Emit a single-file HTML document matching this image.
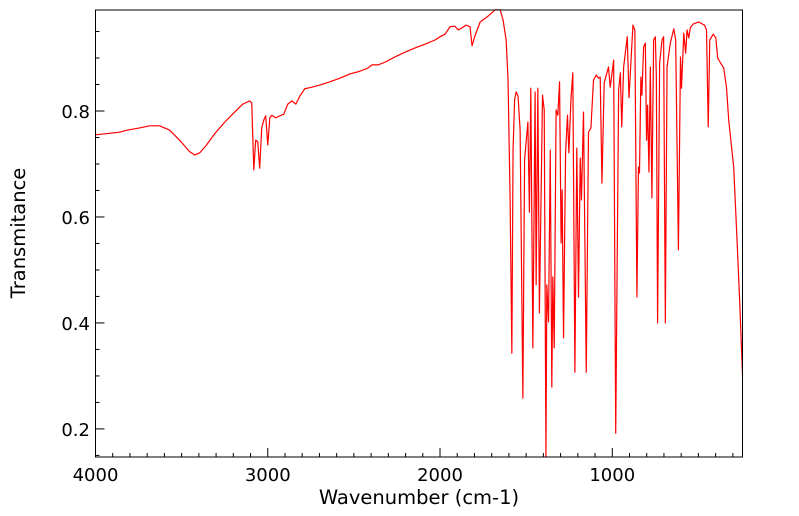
<!DOCTYPE html>
<html><head><meta charset="utf-8"><style>
html,body{margin:0;padding:0;background:#fff;}
svg{display:block;font-family:"DejaVu Sans","Liberation Sans",sans-serif;}
</style></head><body>
<svg id="chart" width="799" height="516" viewBox="0 0 799 516" xmlns="http://www.w3.org/2000/svg">
<g id="ticks"></g>
<path id="line" fill="none" stroke="#ff0000" stroke-width="1.2" stroke-linejoin="round"/>
<rect x="95.5" y="10" width="647" height="447" fill="none" stroke="#000" stroke-width="1"/>
<g id="labels" font-size="18" fill="#000"></g>
<text x="419" y="504" font-size="19.5" text-anchor="middle">Wavenumber (cm-1)</text>
<text x="25" y="233" font-size="19.5" text-anchor="middle" transform="rotate(-90 25 233)">Transmitance</text>
</svg>
<script>
const wavenumbers=[4000,3860,3814,3744,3686,3628,3570,3512,3453,3424,3395,3355,3308,3250,3192,3145,3105,3093,3081,3070,3058,3047,3035,3023,3012,3000,2988,2977,2953,2930,2907,2884,2860,2837,2814,2785,2744,2698,2640,2581,2523,2465,2419,2395,2360,2320,2262,2203,2145,2087,2029,2000,1971,1942,1913,1895,1872,1849,1826,1814,1797,1767,1721,1680,1651,1634,1616,1605,1593,1583,1576,1567,1558,1547,1535,1519,1509,1490,1481,1473,1461,1448,1442,1432,1423,1405,1395,1385,1380,1370,1360,1351,1345,1337,1326,1316,1306,1297,1291,1283,1271,1260,1252,1240,1229,1217,1206,1196,1186,1179,1167,1151,1138,1124,1109,1093,1080,1070,1060,1047,1022,1012,992,980,963,953,945,934,913,903,880,869,857,848,842,834,828,818,808,801,795,787,779,770,760,750,744,737,725,711,702,692,682,663,643,632,616,604,598,585,574,566,556,547,531,498,465,453,443,434,414,399,388,372,353,337,324,304,295,275,260,244];
const transmittance=[0.755,0.760,0.764,0.768,0.772,0.772,0.764,0.745,0.723,0.717,0.721,0.736,0.757,0.779,0.798,0.813,0.819,0.815,0.689,0.745,0.742,0.692,0.768,0.783,0.791,0.736,0.787,0.792,0.787,0.791,0.794,0.813,0.819,0.813,0.828,0.842,0.845,0.849,0.855,0.862,0.870,0.875,0.881,0.887,0.887,0.892,0.902,0.911,0.919,0.926,0.934,0.940,0.945,0.959,0.960,0.953,0.957,0.962,0.959,0.923,0.942,0.968,0.979,0.991,0.991,0.972,0.934,0.858,0.632,0.343,0.726,0.821,0.836,0.828,0.764,0.258,0.708,0.779,0.609,0.843,0.353,0.836,0.472,0.843,0.419,0.830,0.802,0.147,0.472,0.402,0.726,0.279,0.487,0.353,0.802,0.792,0.855,0.551,0.651,0.372,0.721,0.792,0.721,0.821,0.872,0.307,0.730,0.449,0.711,0.632,0.798,0.307,0.760,0.768,0.858,0.868,0.862,0.864,0.664,0.853,0.883,0.845,0.896,0.192,0.840,0.872,0.770,0.883,0.940,0.825,0.962,0.953,0.449,0.694,0.683,0.864,0.830,0.921,0.928,0.745,0.811,0.685,0.883,0.636,0.934,0.940,0.864,0.400,0.891,0.934,0.940,0.400,0.883,0.928,0.955,0.934,0.538,0.902,0.843,0.947,0.909,0.953,0.938,0.957,0.964,0.968,0.962,0.953,0.770,0.934,0.945,0.938,0.900,0.891,0.881,0.845,0.783,0.721,0.694,0.551,0.438,0.302];
const xTickLabels=[4000,3000,2000,1000];
const yTickLabels=[0.2,0.4,0.6,0.8];
const xMin=4000,xMax=244,yMin=0.147,yMax=0.9906;
const L=95.5,R=742.5,T=10,B=457;
function sx(v){return L+(xMin-v)/(xMin-xMax)*(R-L);}
function sy(v){return B-(v-yMin)/(yMax-yMin)*(B-T);}
const NS="http://www.w3.org/2000/svg";
let d="";
for(let i=0;i<wavenumbers.length;i++){d+=(i?"L":"M")+sx(wavenumbers[i]).toFixed(2)+" "+sy(transmittance[i]).toFixed(2);}
document.getElementById("line").setAttribute("d",d);
const tg=document.getElementById("ticks"),lg=document.getElementById("labels");
function ln(x1,y1,x2,y2){const l=document.createElementNS(NS,"line");


l.setAttribute("x1",x1);l.setAttribute("y1",y1);l.setAttribute("x2",x2);l.setAttribute("y2",y2);l.setAttribute("stroke","#000");l.setAttribute("stroke-width","1");tg.appendChild(l);}
for(let w=4000;w>=xMax;w-=100){const x=sx(w);const major=(w%1000===0);ln(x,B,x,B-(major?9:4));}
for(let v=0.15;v<=yMax;v+=0.05){const y=sy(v);const major=Math.abs(Math.round(v*10)-v*10)<1e-6&&Math.round(v*10)%2===0;ln(L,y,L+(major?9:4),y);}
xTickLabels.forEach(w=>{const t=document.createElementNS(NS,"text");


t.setAttribute("x",sx(w));t.setAttribute("y",481);t.setAttribute("text-anchor","middle");t.textContent=w;lg.appendChild(t);});
yTickLabels.forEach(v=>{const t=document.createElementNS(NS,"text");


t.setAttribute("x",90);t.setAttribute("y",sy(v)+7);t.setAttribute("text-anchor","end");t.textContent=v.toFixed(1);lg.appendChild(t);});
</script>
</body></html>
